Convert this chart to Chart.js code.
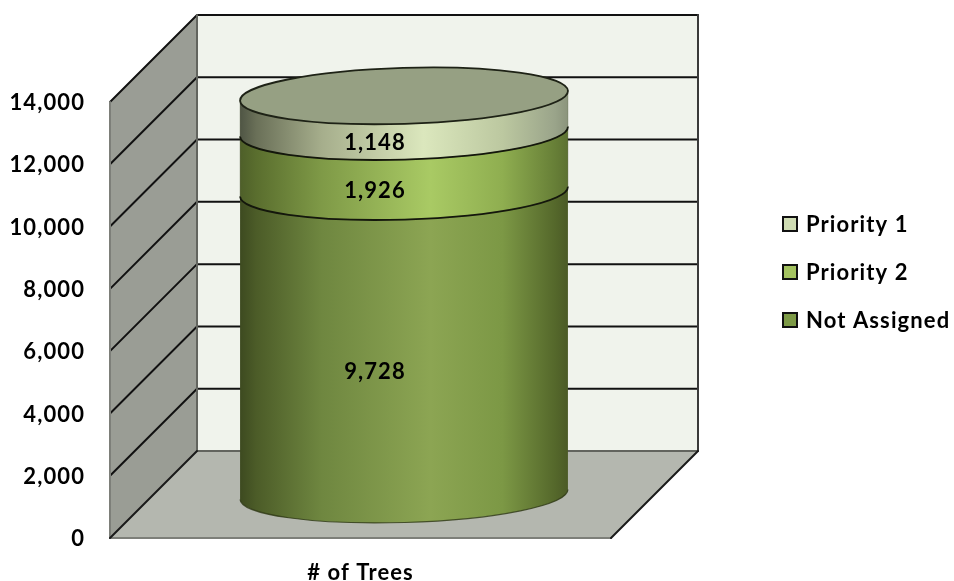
<!DOCTYPE html>
<html>
<head>
<meta charset="utf-8">
<style>html,body{margin:0;padding:0;background:#fff}canvas{display:block}</style>
<script src="https://cdn.jsdelivr.net/npm/chart.js@4/dist/chart.umd.min.js"></script>
</head>
<body>
<canvas id="trees" width="954" height="581"></canvas>
<script>
// Tree counts by planting priority, stacked from the bottom up.
const categories = ['# of Trees'];
const seriesNames = ['Not Assigned', 'Priority 2', 'Priority 1'];
const notAssigned = [9728];
const priority2 = [1926];
const priority1 = [1148];
const legendOrder = ['Priority 1', 'Priority 2', 'Not Assigned'];

const FONT = 'Lato, Carlito, sans-serif';
const DEPTH = 87;              // receding offset of the 3D box
const TILT = -0.03;            // slight rotation of the elliptical caps
const CAP_RY = 28;

const sideStops = {
  'Not Assigned': [[0, '#3d4a20'], [0.05, '#4c5c28'], [0.25, '#6f8740'], [0.58, '#8ca553'], [0.8, '#7c9845'], [0.96, '#55682b'], [1, '#4b5a26']],
  'Priority 2':   [[0, '#4e5f29'], [0.05, '#5a6e2e'], [0.25, '#7f9a47'], [0.58, '#a9ca64'], [0.8, '#8fae50'], [0.96, '#677f37'], [1, '#5c7131']],
  'Priority 1':   [[0, '#4f5544'], [0.05, '#6a7058'], [0.25, '#a6ae8c'], [0.56, '#dbe7bd'], [0.8, '#bcc8a0'], [0.96, '#9aa48a'], [1, '#8b947c']]
};
const swatchFill = { 'Priority 1': '#cfdcb3', 'Priority 2': '#a3c25f', 'Not Assigned': '#7d9a46' };

// Walls, floor and gridlines of the 3D box, placed from the value scale.
function drawBox(chart) {
  const { ctx, chartArea: a, scales: { y } } = chart;
  const d = DEPTH;
  const bottom = y.getPixelForValue(0);
  const top = y.getPixelForValue(14000);

  ctx.save();
  ctx.lineCap = 'round';
  // back wall
  ctx.fillStyle = '#f0f3ec';
  ctx.fillRect(a.left + d, top - d, a.right - a.left, bottom - top);
  // left wall
  ctx.fillStyle = '#9a9d95';
  ctx.beginPath();
  ctx.moveTo(a.left, bottom); ctx.lineTo(a.left, top);
  ctx.lineTo(a.left + d, top - d); ctx.lineTo(a.left + d, bottom - d);
  ctx.closePath(); ctx.fill();
  // floor
  ctx.fillStyle = '#b4b7af';
  ctx.beginPath();
  ctx.moveTo(a.left, bottom); ctx.lineTo(a.right, bottom);
  ctx.lineTo(a.right + d, bottom - d); ctx.lineTo(a.left + d, bottom - d);
  ctx.closePath(); ctx.fill();

  // gridlines wrap the left and back walls
  ctx.strokeStyle = '#111';
  ctx.lineWidth = 2;
  y.ticks.forEach(t => {
    if (t.value === 0) return;
    const py = y.getPixelForValue(t.value);
    ctx.beginPath();
    ctx.moveTo(a.left, py);
    ctx.lineTo(a.left + d, py - d);
    ctx.lineTo(a.right + d, py - d);
    ctx.stroke();
  });

  // box edges
  ctx.strokeStyle = '#7d7f79';
  ctx.lineWidth = 2;
  ctx.beginPath();
  ctx.moveTo(a.left, top); ctx.lineTo(a.left, bottom); ctx.lineTo(a.right, bottom);
  ctx.stroke();
  ctx.strokeStyle = '#62645e';
  ctx.beginPath();
  ctx.moveTo(a.left + d, top - d); ctx.lineTo(a.left + d, bottom - d); ctx.lineTo(a.right + d, bottom - d);
  ctx.stroke();
  ctx.strokeStyle = '#3a3a3a';
  ctx.beginPath();
  ctx.moveTo(a.right + d, top - d); ctx.lineTo(a.right + d, bottom - d);
  ctx.stroke();
  ctx.strokeStyle = '#1a1a1a';
  ctx.beginPath();
  ctx.moveTo(a.left, bottom); ctx.lineTo(a.left + d, bottom - d);
  ctx.moveTo(a.right, bottom); ctx.lineTo(a.right + d, bottom - d);
  ctx.stroke();
  ctx.restore();
}

// One cylinder section per stacked bar element, bottom section first.
function drawCylinder(chart) {
  const { ctx } = chart;
  const elements = chart.data.datasets.map((_, i) => chart.getDatasetMeta(i).data[0]);
  ctx.save();
  elements.forEach((el, i) => {
    const rx = el.width / 2;
    const cx = el.x + DEPTH / 2;
    const yb = el.base - DEPTH / 2;
    const yt = el.y - DEPTH / 2;
    const grad = ctx.createLinearGradient(cx - rx, 0, cx + rx, 0);
    sideStops[chart.data.datasets[i].label].forEach(([p, c]) => grad.addColorStop(p, c));
    ctx.beginPath();
    ctx.ellipse(cx, yb, rx, CAP_RY, TILT, 0, Math.PI);
    ctx.ellipse(cx, yt, rx, CAP_RY, TILT, Math.PI, 0, true);
    ctx.closePath();
    ctx.fillStyle = grad;
    ctx.fill();
    // the base of the stack has a softer outline than the section seams
    if (i > 0) {
      ctx.strokeStyle = 'rgba(60,70,40,0.3)';
      ctx.lineWidth = 1;
      ctx.stroke();
    }
    ctx.beginPath();
    ctx.ellipse(cx, yb, rx, CAP_RY, TILT, 0, Math.PI);
    ctx.strokeStyle = i === 0 ? 'rgba(45,55,20,0.8)' : '#14170c';
    ctx.lineWidth = i === 0 ? 1.2 : 1.8;
    ctx.stroke();
  });
  // top cap
  const last = elements[elements.length - 1];
  const cx = last.x + DEPTH / 2;
  const yt = last.y - DEPTH / 2;
  ctx.beginPath();
  ctx.ellipse(cx, yt, last.width / 2, CAP_RY, TILT, 0, Math.PI * 2);
  ctx.fillStyle = '#96a083';
  ctx.fill();
  ctx.strokeStyle = '#1e2216';
  ctx.lineWidth = 1.8;
  ctx.stroke();

  // value labels sit on the front face of each section
  ctx.fillStyle = '#000';
  ctx.font = 'bold 22px ' + FONT;
  ctx.textAlign = 'center';
  ctx.textBaseline = 'middle';
  elements.forEach((el, i) => {
    const midY = (el.y + el.base) / 2 - DEPTH / 2 + CAP_RY + 1;
    const value = chart.data.datasets[i].data[0];
    ctx.fillText(value.toLocaleString('en-US'), el.x + DEPTH / 2 - 29, midY);
  });
  ctx.restore();
}

function drawLegend(chart) {
  const { ctx } = chart;
  ctx.save();
  ctx.font = 'bold 22px ' + FONT;
  ctx.textAlign = 'left';
  ctx.textBaseline = 'middle';
  legendOrder.forEach((name, i) => {
    const y = 224 + i * 48;
    ctx.fillStyle = swatchFill[name];
    ctx.fillRect(783, y - 7, 14, 14);
    ctx.strokeStyle = '#111';
    ctx.lineWidth = 2;
    ctx.strokeRect(783, y - 7, 14, 14);
    ctx.fillStyle = '#000';
    ctx.fillText(name, 806, y + 1);
  });
  ctx.restore();
}

const cylinderPlugin = {
  id: 'cylinder3d',
  // wider tracking for all chart text, ticks included
  beforeDraw(chart) { chart.ctx.letterSpacing = '1.1px'; },
  beforeDatasetsDraw: drawBox,
  afterDatasetsDraw(chart) { drawCylinder(chart); drawLegend(chart); }
};

new Chart(document.getElementById('trees'), {
  type: 'bar',
  data: {
    labels: categories,
    datasets: [notAssigned, priority2, priority1].map((data, i) => ({
      label: seriesNames[i],
      data,
      backgroundColor: 'transparent',
      borderWidth: 0,
      barPercentage: 328 / 501,
      categoryPercentage: 1
    }))
  },
  options: {
    responsive: false,
    animation: false,
    layout: { padding: { top: 102, right: 343, left: 0, bottom: 0 } },
    plugins: { legend: { display: false }, tooltip: { enabled: false } },
    scales: {
      x: {
        stacked: true,
        grid: { display: false, drawTicks: false },
        border: { display: false },
        ticks: { padding: 22, color: '#000', font: { family: FONT, size: 22, weight: 'bold' } },
        afterFit(scale) { scale.height = 43; }
      },
      y: {
        stacked: true,
        min: 0,
        max: 14000,
        grid: { display: false, drawTicks: false },
        border: { display: false },
        ticks: {
          stepSize: 2000,
          padding: 25,
          labelOffset: 1,
          color: '#000',
          font: { family: FONT, size: 22, weight: 'bold' },
          callback: v => v.toLocaleString('en-US')
        },
        afterFit(scale) { scale.width = 110; }
      }
    }
  },
  plugins: [cylinderPlugin]
});
</script>
</body>
</html>
